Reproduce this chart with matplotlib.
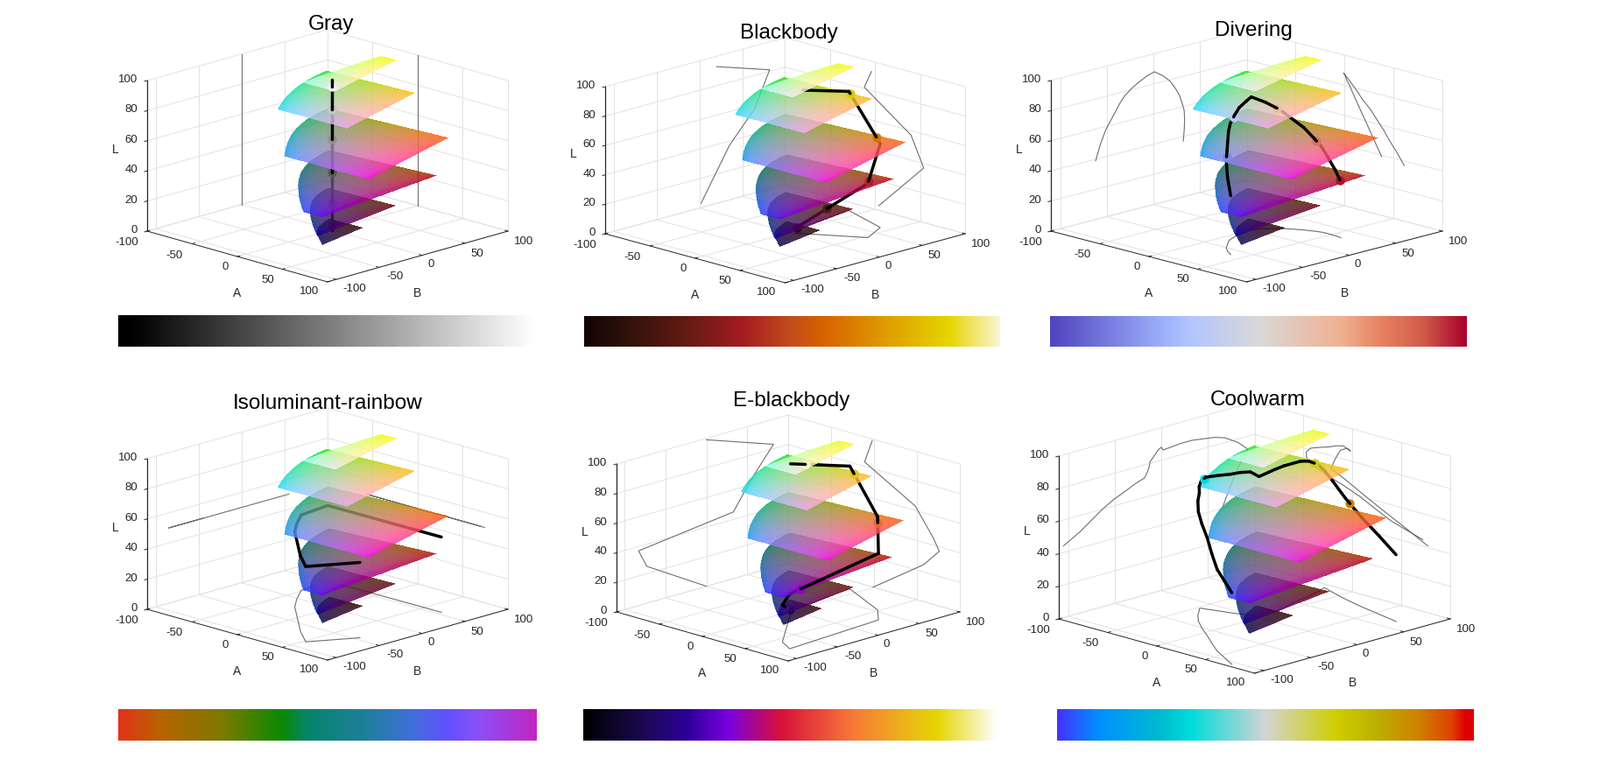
import numpy as np
import matplotlib
matplotlib.use("Agg")
import matplotlib.pyplot as plt
from matplotlib.colors import LinearSegmentedColormap
from matplotlib.image import AxesImage
from matplotlib.path import Path
from matplotlib.transforms import Affine2D
from mpl_toolkits.mplot3d import proj3d

plt.rcParams['font.family'] = ['Liberation Sans', 'DejaVu Sans']

W, H = 1827, 891

# lightness of the coloured slices
slice_levels = [4, 18, 38, 60, 80, 95]

a_ticks = [-100, -50, 0, 50, 100]
b_ticks = [-100, -50, 0, 50, 100]
l_ticks = [0, 20, 40, 60, 80, 100]

titles = ['Gray', 'Blackbody', 'Divering', 'Isoluminant-rainbow', 'E-blackbody', 'Coolwarm']

# paths (A, B, L)
gray_a = [0, 0]
gray_b = [0, 0]
gray_l = [0, 100]

blackbody_a = [4, 54, 40, -12, -4]
blackbody_b = [2, 35, 64, 82, 20]
blackbody_l = [3, 37, 57, 81, 93]

diverging_a = [38, 30, 23, 19, 15, 11, 8, 5, 2, 1, -1, 5, 12, 18, 27, 34, 40, 46, 54, 61]
diverging_b = [-62, -57, -51, -46, -41, -36, -31, -23, -15, -7, 1, 10, 18, 23, 28, 31, 33, 33.5, 33, 32]
diverging_l = [39, 49, 58, 63, 68, 73, 77, 81, 84, 86.5, 88, 84, 79, 74, 68, 62, 57, 51, 44, 37]

iso_a = [74, 52, 28, -23, -37, -52, -56, 69]
iso_b = [-45, -85, -66, -19, -2, 19, 54, 55]
iso_l = [50, 50, 50, 50, 50, 50, 50, 50]

eblack_a = [-1, 58, 76, 69, 48, -11, -2]
eblack_b = [0, -73, -83, 33, 54, 82, 0]
eblack_l = [0, 25, 37, 45, 63, 83, 99]

coolwarm_a = [72, 56, 40, 23, 7, -10, -25, -36, -44, -47, -47, -43, -34, -24, -16, -9, -2, -4, -6, -9, -12, -14,
              -18, -22, -8, 10, 32, 55, 77]
coolwarm_b = [-105, -96, -87, -75, -63, -51, -39, -28, -18, -15, -13, -12, -9, -6, -3, 0, 2, 21, 33, 45, 57, 68,
              82, 93, 88, 82, 76, 71, 66]
coolwarm_l = [44, 47, 50, 55, 60, 64, 67, 70, 72, 75, 78, 81, 83, 85, 87, 88, 86, 87, 87, 86, 85, 83,
              78, 72, 68, 62, 55, 48, 41]

paths = [
    (gray_a, gray_b, gray_l),
    (blackbody_a, blackbody_b, blackbody_l),
    (diverging_a, diverging_b, diverging_l),
    (iso_a, iso_b, iso_l),
    (eblack_a, eblack_b, eblack_l),
    (coolwarm_a, coolwarm_b, coolwarm_l),
]

# colour bar stops
bar_gray = [(0, '#000000'), (0.03, '#000000'), (1, '#ffffff')]
bar_blackbody = [(0, '#120400'), (0.1, '#2e120a'), (0.25, '#671a14'), (0.38, '#a51c22'), (0.5, '#c34d1b'),
                 (0.57, '#d66000'), (0.72, '#e09a00'), (0.88, '#e6d500'), (1, '#faf5d5')]
bar_diverging = [(0, '#5044c0'), (0.25, '#96a8f7'), (0.33, '#b0c4ff'), (0.5, '#d9d9d9'), (0.7, '#f0b090'),
                 (0.8, '#e68060'), (0.9, '#d05a4a'), (1, '#a8002c')]
bar_iso = [(0, '#e2331a'), (0.1, '#b86400'), (0.25, '#7a7a00'), (0.39, '#0b8a00'), (0.45, '#05856a'),
           (0.6, '#207fa0'), (0.7, '#3f70d8'), (0.79, '#6350ff'), (0.86, '#8a50f8'), (1, '#c226c0')]
bar_eblack = [(0, '#000000'), (0.15, '#1c0a55'), (0.25, '#2c0098'), (0.35, '#7a00e0'), (0.476, '#d8103c'),
              (0.65, '#f87838'), (0.82, '#e8c810'), (0.855, '#e4d400'), (1, '#ffffff')]
bar_coolwarm = [(0, '#4432ff'), (0.1, '#0090ff'), (0.25, '#00bcd0'), (0.32, '#00dcdc'), (0.5, '#d4d4d4'),
                (0.67, '#cfcf00'), (0.77, '#bcb000'), (0.87, '#d08000'), (0.95, '#e04000'), (0.98, '#dd0000'),
                (1, '#dd0000')]
bars = [bar_gray, bar_blackbody, bar_diverging, bar_iso, bar_eblack, bar_coolwarm]

# pixel layout: left corner x, right corner x, corner y, front y, top of L axis y
boxes = [(168, 580, 264, 322, 92), (691, 1102, 267, 323, 99), (1200, 1647, 264, 322, 92),
         (168, 580, 696, 754, 524), (704, 1096, 699, 755, 530), (1209, 1656, 707, 769, 521)]
bar_rects = [(135, 609, 360, 396), (667, 1142, 361, 396), (1199, 1675, 361, 396),
             (135, 612, 810, 846), (666, 1139, 810, 846), (1207, 1683, 810, 846)]
title_pos = [(378, 28), (901, 38), (1431, 35), (374, 461), (904, 458), (1436, 457)]

TXT = '#262626'
GRID = '#e2e2e2'
A_OFF = [(-23, -13), (-20, -13), (-14, -12), (-17, -12), (-21, -11)]
B_OFF = [(21, -11), (18, -11), (10, -10), (14, -12), (18, -12)]


def lab_to_rgb(L, a, b):
    fy = (L + 16) / 116 + 0 * a
    fx = fy + a / 500
    fz = fy - b / 200
    f = np.stack([fx, fy, fz], axis=-1)
    xyz = np.where(f > 6 / 29, f**3, 3 * (6 / 29)**2 * (f - 4 / 29))
    xyz = xyz * np.array([0.95047, 1.0, 1.08883])
    m = np.array([[3.2406, -1.5372, -0.4986], [-0.9689, 1.8758, 0.0415], [0.0557, -0.2040, 1.0570]])
    rgb = xyz @ m.T
    ok = np.all((rgb >= -0.002) & (rgb <= 1.002), axis=-1)
    rgb = np.clip(rgb, 0, 1)
    rgb = np.where(rgb <= 0.0031308, 12.92 * rgb, 1.055 * np.maximum(rgb, 1e-9)**(1 / 2.4) - 0.055)
    return rgb, ok


def hull_mask(ok, aa, bb):
    # slices have straight outer edges in the picture, so use the hull of the gamut
    pts = sorted(zip(aa[ok].tolist(), bb[ok].tolist()))

    def half(seq):
        out = []
        for p in seq:
            while len(out) > 1 and ((out[-1][0] - out[-2][0]) * (p[1] - out[-2][1])
                                    - (out[-1][1] - out[-2][1]) * (p[0] - out[-2][0])) <= 0:
                out.pop()
            out.append(p)
        return out[:-1]

    hull = half(pts) + half(pts[::-1])
    inside = Path(hull + hull[:1]).contains_points(np.column_stack([aa.ravel(), bb.ravel()]), radius=0.3)
    return inside.reshape(aa.shape)


grid_a = np.arange(-110, 110.01, 0.5)
grid_b = np.arange(-115, 110.01, 0.5)
aa, bb = np.meshgrid(grid_a, grid_b)
slice_imgs = []
for lev in slice_levels:
    rgb, ok = lab_to_rgb(lev, aa, bb)
    slice_imgs.append(np.dstack([rgb, (ok | hull_mask(ok, aa, bb)) * 0.82]))


def split_path(xa, xb, xl, levels):
    # cut the path where it crosses the slices, returns pieces per band and crossing points
    pieces = {}
    hits = []
    pts = list(zip(xa, xb, xl))
    for p, q in zip(pts[:-1], pts[1:]):
        ts = [0.0]
        for lev in levels:
            if (p[2] - lev) * (q[2] - lev) < 0:
                t = (lev - p[2]) / (q[2] - p[2])
                ts.append(t)
                hits.append((p[0] + t * (q[0] - p[0]), p[1] + t * (q[1] - p[1]), lev))
        ts = sorted(ts) + [1.0]
        for t0, t1 in zip(ts[:-1], ts[1:]):
            u = [p[i] + t0 * (q[i] - p[i]) for i in range(3)]
            v = [p[i] + t1 * (q[i] - p[i]) for i in range(3)]
            band = sum(1 for lev in levels if (u[2] + v[2]) / 2 > lev)
            pieces.setdefault(band, []).append((u, v))
    return pieces, hits


fig = plt.figure(figsize=(W / 100, H / 100), dpi=100)
fig.patch.set_facecolor('white')

for i in range(6):
    xl, xr, yc, yf, yt = boxes[i]
    half_w = (xr - xl) / 2
    elev = np.degrees(np.arcsin((yf - yc) / half_w))
    k = (yc - yt) / np.cos(np.radians(elev)) / ((xr - xl) / np.sqrt(2))

    ax = fig.add_axes([0.1, 0.1, 0.4, 0.4 * W / H], projection='3d', proj_type='ortho', computed_zorder=False)
    ax.set_xlim(-100, 100)
    ax.set_ylim(-110, 100)
    ax.set_zlim(0, 100)
    ax.set_box_aspect((1, 1, k))
    ax.view_init(elev=elev, azim=-45)
    ax.set_axis_off()
    ax.patch.set_alpha(0)

    M = ax.get_proj()

    def pr(a, b, l):
        x, y, _ = proj3d.proj_transform(a, b, l, M)
        return float(x), float(y)

    # move the axes so that the box lands where it is in the picture
    fig.canvas.draw()
    pos = ax.get_window_extent()
    p_l = ax.transData.transform(pr(-100, -110, 0))
    p_r = ax.transData.transform(pr(100, 100, 0))
    s0 = pos.width
    s = s0 * (xr - xl) / (p_r[0] - p_l[0])
    ux = (p_l[0] - pos.x0) / s0
    uy = (p_l[1] - pos.y0) / s0
    x0 = xl - ux * s
    y0 = (H - yc) - uy * s
    ax.set_position([x0 / W, y0 / H, s / W, s / H])
    ax.apply_aspect()

    # grid on the three back planes
    for t in a_ticks:
        ax.plot([t, t], [-110, 100], [0, 0], color=GRID, lw=0.7, zorder=1)
        ax.plot([t, t], [100, 100], [0, 100], color=GRID, lw=0.7, zorder=1)
    for t in b_ticks:
        ax.plot([-100, 100], [t, t], [0, 0], color=GRID, lw=0.7, zorder=1)
        ax.plot([-100, -100], [t, t], [0, 100], color=GRID, lw=0.7, zorder=1)
    for t in l_ticks:
        ax.plot([-100, -100], [-110, 100], [t, t], color=GRID, lw=0.7, zorder=1)
        ax.plot([-100, 100], [100, 100], [t, t], color=GRID, lw=0.7, zorder=1)

    # axis lines and ticks
    ax.plot([-100, 100], [-110, -110], [0, 0], color=TXT, lw=0.7, zorder=2)
    ax.plot([100, 100], [-110, 100], [0, 0], color=TXT, lw=0.7, zorder=2)
    ax.plot([-100, -100], [-110, -110], [0, 100], color=TXT, lw=0.9, zorder=2)
    for t in l_ticks:
        ax.plot([-100, -100], [-110, -113], [t, t], color=TXT, lw=0.7, zorder=2)
    for t in a_ticks:
        ax.plot([t, t], [-110, -107], [0, 0], color=TXT, lw=0.7, zorder=2)
    for t in b_ticks:
        ax.plot([100, 97], [t, t], [0, 0], color=TXT, lw=0.7, zorder=2)

    # tick labels
    for t, off in zip(a_ticks, A_OFF):
        ax.annotate(str(t), pr(t, -110, 0), xytext=off, textcoords='offset pixels', ha='center', va='center',
                    fontsize=9.5, color=TXT, annotation_clip=False)
    for t, off in zip(b_ticks, B_OFF):
        ax.annotate(str(t), pr(100, t, 0), xytext=off, textcoords='offset pixels', ha='center', va='center',
                    fontsize=9.5, color=TXT, annotation_clip=False)
    for t in l_ticks:
        ax.annotate(str(t), pr(-100, -110, t), xytext=(-11, 1), textcoords='offset pixels', ha='right', va='center',
                    fontsize=9.5, color=TXT, annotation_clip=False)
    ax.annotate('A', pr(0, -110, 0), xytext=(0, -42), textcoords='offset pixels', ha='center', va='center',
                fontsize=10, color=TXT, annotation_clip=False)
    ax.annotate('B', pr(100, -5, 0), xytext=(0, -42), textcoords='offset pixels', ha='center', va='center',
                fontsize=10, color=TXT, annotation_clip=False)
    ax.annotate('L', pr(-100, -110, 50), xytext=(-36, 7), textcoords='offset pixels', ha='center', va='center',
                fontsize=10, color=TXT, annotation_clip=False)

    pa, pb, pl = [np.array(v, dtype=float) for v in paths[i]]

    # shadows of the path on the back planes
    ax.plot(np.full_like(pa, -100), pb, pl, color='#6e6e6e', lw=0.8, zorder=3)
    ax.plot(pa, np.full_like(pa, 100), pl, color='#6e6e6e', lw=0.8, zorder=3)
    ax.plot(pa, pb, np.zeros_like(pa), color='#6e6e6e', lw=0.8, zorder=3)

    pieces, hits = split_path(pa, pb, pl, slice_levels)

    for n, lev in enumerate(slice_levels):
        o = np.array(pr(0, 0, lev))
        ex = np.array(pr(1, 0, lev)) - o
        ey = np.array(pr(0, 1, lev)) - o
        tr = Affine2D(np.array([[ex[0], ey[0], o[0]], [ex[1], ey[1], o[1]], [0, 0, 1]])) + ax.transData
        im = AxesImage(ax, interpolation='bilinear', origin='lower',
                       extent=(grid_a[0], grid_a[-1], grid_b[0], grid_b[-1]), transform=tr)
        im.set_data(slice_imgs[n])
        im.set_zorder(10 + 3 * n)
        ax.add_artist(im)

    # black path, bands between the slices keep the stacking of the picture
    for band, segs in pieces.items():
        for u, v in segs:
            ax.plot([u[0], v[0]], [u[1], v[1]], [u[2], v[2]], color='black', lw=2.5,
                    solid_capstyle='round', zorder=9 + 3 * band)
    for ha, hb, hl in hits:
        n = slice_levels.index(hl)
        col, _ = lab_to_rgb(np.array(hl, dtype=float), np.array(ha), np.array(hb))
        ax.plot([ha], [hb], [hl], 'o', color=tuple(col), ms=7.5, mew=0, zorder=11 + 3 * n)

    fig.text(title_pos[i][0] / W, 1 - title_pos[i][1] / H, titles[i], fontsize=17.5, color='black', ha='center', va='center')

    # colour bar
    x1, x2, y1, y2 = bar_rects[i]
    bax = fig.add_axes([x1 / W, 1 - y2 / H, (x2 - x1) / W, (y2 - y1) / H])
    cmap = LinearSegmentedColormap.from_list('bar%d' % i, bars[i], N=256)
    bax.imshow(np.linspace(0, 1, 256)[None, :], aspect='auto', cmap=cmap)
    bax.set_axis_off()

fig.savefig('out.png', dpi=100)
